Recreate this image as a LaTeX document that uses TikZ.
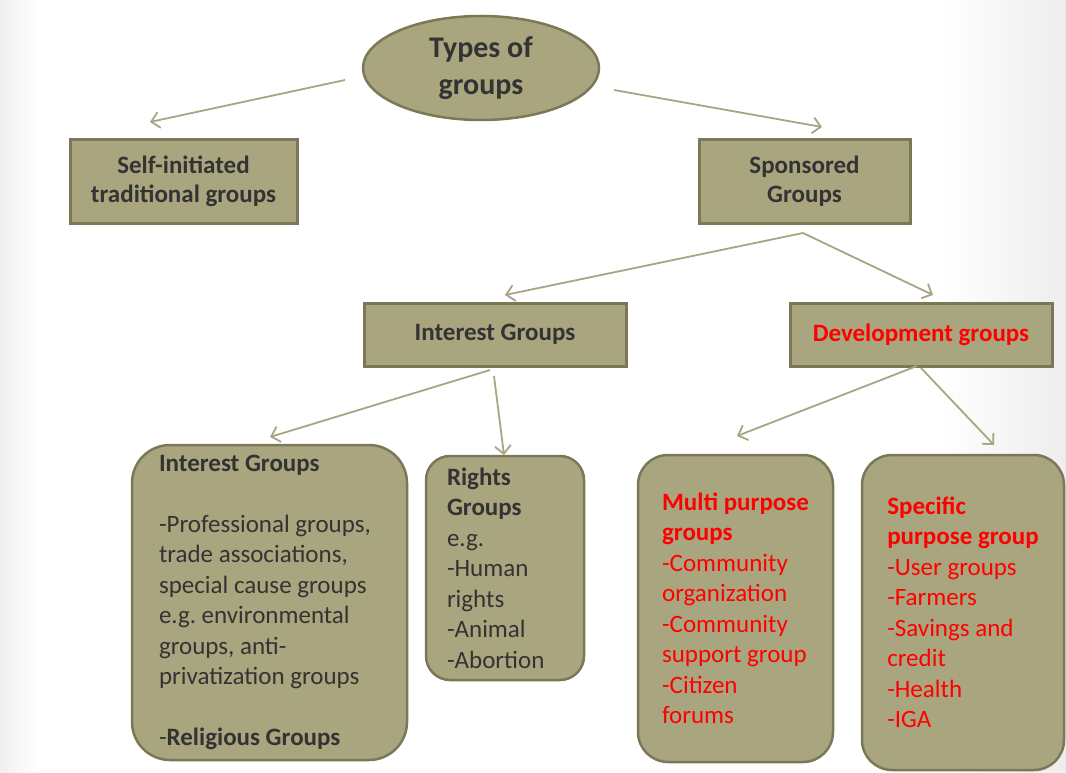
\documentclass[tikz,border=0pt]{standalone}
\usepackage{fontspec}
\setmainfont{Carlito}
\frenchspacing
\usetikzlibrary{arrows.meta,shapes.geometric}
\definecolor{boxfill}{HTML}{A9A57E}
\definecolor{boxline}{HTML}{7B7858}
\definecolor{arrowcol}{HTML}{A8A583}
\definecolor{txt}{HTML}{333333}
\definecolor{redtxt}{HTML}{FF0000}
\tikzset{
  every node/.style={inner sep=0pt, outer sep=0pt},
  plainbox/.style={draw=boxline, fill=boxfill, line width=3pt, rectangle, align=center,
    text=txt, font=\fontsize{25}{29}\selectfont\bfseries},
  roundbox/.style={draw=boxline, fill=boxfill, line width=2.5pt, rectangle, rounded corners=30pt,
    align=flush left, text=txt, font=\fontsize{25}{30.5}\selectfont\frenchspacing},
  ovalbox/.style={draw=boxline, fill=boxfill, line width=2.5pt, ellipse, align=center,
    text=txt, font=\fontsize{30}{37}\selectfont\bfseries},
  link/.style={draw=arrowcol, line width=1.8pt, -{Straight Barb[length=8pt,width=16pt]}}
}
\begin{document}
\begin{tikzpicture}[x=1pt,y=-1pt]
\useasboundingbox (0,0) rectangle (1066,773);
\fill[white] (0,0) rectangle (1066,773);
\shade[left color=black!6, right color=white] (0,0) rectangle (40,773);
\shade[left color=white, right color=black!7] (940,0) rectangle (1066,773);

\node[ovalbox, minimum width=236pt, minimum height=104pt] (types) at (481,68) {Types of\\groups};

\node[plainbox, minimum width=227pt, minimum height=83pt] (self) at (183.5,181.5) {Self-initiated\\traditional groups};
\node[plainbox, minimum width=211pt, minimum height=83pt] (spons) at (804.5,181.5) {Sponsored\\Groups};

\node[plainbox, minimum width=262pt, minimum height=63pt] (interest) at (495,334.5) {Interest Groups};
\node[plainbox, minimum width=262pt, minimum height=63pt, text=redtxt] (devel) at (921,334.5) {Development groups};

\node[roundbox, minimum width=275pt, minimum height=315pt, rounded corners=38pt, text width=221pt] (intbox) at (269.5,602.5)
 {\textbf{Interest Groups}\\[30.5pt]-Professional groups,\\trade associations,\\special cause groups\\e.g. environmental\\groups, anti-\\privatization groups\\[30.5pt]-\textbf{Religious Groups}};
\node[roundbox, minimum width=158pt, minimum height=224pt, rounded corners=24pt, text width=116pt] (rights) at (505,568)
 {\textbf{Rights}\\\textbf{Groups}\\e.g.\\-Human\\rights\\-Animal\\-Abortion};
\node[roundbox, minimum width=195pt, minimum height=307pt, text=redtxt] (multi) at (735.5,608.5)
 {\textbf{Multi purpose}\\\textbf{groups}\\-Community\\organization\\-Community\\support group\\-Citizen\\forums};
\node[roundbox, minimum width=202pt, minimum height=315pt, text=redtxt] (spec) at (963,612.5)
 {\textbf{Specific}\\\textbf{purpose group}\\-User groups\\-Farmers\\-Savings and\\credit\\-Health\\-IGA};

% connector end points
\coordinate (t1) at (345,80);   \coordinate (e1) at (150,122);
\coordinate (t2) at (614,90);   \coordinate (e2) at (822,127);
\coordinate (s0) at (803,233);  \coordinate (e3) at (505,295);
\coordinate (e4) at (933,295);
\coordinate (i1) at (490,370);  \coordinate (e5) at (270,437);
\coordinate (i2) at (494,376);  \coordinate (e6) at (504,455);
\coordinate (d1) at (917,366);  \coordinate (e7) at (737,436);
\coordinate (d2) at (921,368);  \coordinate (e8) at (994,445);

\draw[link] (t1) -- (e1);
\draw[link] (t2) -- (e2);
\draw[link] (s0) -- (e3);
\draw[link] (s0) -- (e4);
\draw[link] (i1) -- (e5);
\draw[link] (i2) -- (e6);
\draw[link] (d1) -- (e7);
\draw[link] (d2) -- (e8);
\end{tikzpicture}
\end{document}
